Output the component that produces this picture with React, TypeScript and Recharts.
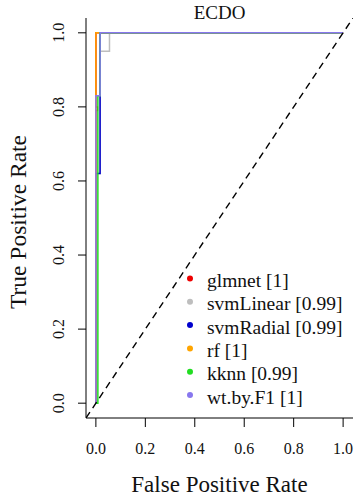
import React from 'react';
import { LineChart, Line, XAxis, YAxis, Legend, Label, Customized } from 'recharts';

const FONT = '"Liberation Serif", "Times New Roman", Times, serif';

const seriesNames = ['glmnet', 'svmLinear', 'svmRadial', 'rf', 'kknn', 'wt.by.F1'];
const seriesAuc = ['1', '0.99', '0.99', '1', '0.99', '1'];
const seriesColors = ['#EE0000', '#BEBEBE', '#0000CD', '#FFA500', '#22DD22', '#8877EE'];

const glmnetFpr = [0, 0, 0.006, 0.006, 0, 0, 1];
const glmnetTpr = [0, 0.79, 0.79, 0.8, 0.8, 1, 1];
const svmLinearFpr = [0, 0, 0.017, 0.017, 0.055, 0.055, 1];
const svmLinearTpr = [0, 0.62, 0.62, 0.95, 0.95, 1, 1];
const svmRadialFpr = [0, 0, 0.017, 0.017, 1];
const svmRadialTpr = [0, 0.62, 0.62, 1, 1];
const rfFpr = [0, 0, 1];
const rfTpr = [0, 1, 1];
const kknnFpr = [0, 0.008, 0.008, 0.017, 0.017, 1];
const kknnTpr = [0, 0, 0.83, 0.83, 1, 1];
const wtFpr = [0, 0, 0.017, 0.017, 1];
const wtTpr = [0, 0.83, 0.83, 1, 1];

const diagFpr = [-0.04, 1.04];
const diagTpr = [-0.04, 1.04];

const axisTicks = [0, 0.2, 0.4, 0.6, 0.8, 1];
const axisTickLabels = ['0.0', '0.2', '0.4', '0.6', '0.8', '1.0'];

const zip = (xs: number[], ys: number[]) => xs.map((x, i) => ({ fpr: x, tpr: ys[i] }));

const seriesData = [
  zip(glmnetFpr, glmnetTpr),
  zip(svmLinearFpr, svmLinearTpr),
  zip(svmRadialFpr, svmRadialTpr),
  zip(rfFpr, rfTpr),
  zip(kknnFpr, kknnTpr),
  zip(wtFpr, wtTpr),
];
const diagData = zip(diagFpr, diagTpr);

const tickLabel = (v: number) => {
  const i = axisTicks.indexOf(v);
  return i >= 0 ? axisTickLabels[i] : String(v);
};

const XTick = (props: any) => {
  const { x, y, payload } = props;
  return (
    <text x={x} y={y + 25} textAnchor="middle" fontFamily={FONT} fontSize={16} fill="#111">
      {tickLabel(payload.value)}
    </text>
  );
};

const YTick = (props: any) => {
  const { x, y, payload } = props;
  const bx = x - 12;
  return (
    <text x={bx} y={y} textAnchor="middle" transform={`rotate(-90, ${bx}, ${y})`} fontFamily={FONT} fontSize={16} fill="#111">
      {tickLabel(payload.value)}
    </text>
  );
};

const XTitle = (props: any) => {
  const vb = props.viewBox || { x: 86, y: 418, width: 267, height: 83 };
  const cx = vb.x + vb.width / 2;
  return (
    <text x={cx} y={vb.y + 74} textAnchor="middle" fontFamily={FONT} fontSize={23} fill="#111">
      False Positive Rate
    </text>
  );
};

const YTitle = (props: any) => {
  const vb = props.viewBox || { x: 0, y: 18, width: 86, height: 400 };
  const cy = vb.y + vb.height / 2 + 4;
  const bx = 26;
  return (
    <text x={bx} y={cy} textAnchor="middle" transform={`rotate(-90, ${bx}, ${cy})`} fontFamily={FONT} fontSize={23.5} fill="#111">
      True Positive Rate
    </text>
  );
};

const Title = () => (
  <text x={219.5} y={19} textAnchor="middle" fontFamily={FONT} fontSize={19} fill="#111">
    ECDO
  </text>
);

const renderLegend = () => (
  <svg width={175} height={160} style={{ display: 'block' }}>
    {seriesNames.map((n, i) => {
      const base = 23 + 23.3 * i;
      return (
        <g key={n}>
          <circle cx={10} cy={base - 8.5} r={3} fill={seriesColors[i]} />
          <text x={27} y={base} fontFamily={FONT} fontSize={19.5} fill="#111">
            {`${n} [${seriesAuc[i]}]`}
          </text>
        </g>
      );
    })}
  </svg>
);

export default function App() {
  return (
    <div style={{ position: 'absolute', left: 0, top: 0, width: 355, height: 501, background: '#fff' }}>
      <LineChart width={355} height={501} margin={{ top: 18, right: 2, bottom: 0, left: 0 }}>
        <XAxis
          type="number"
          dataKey="fpr"
          domain={[-0.04, 1.04]}
          ticks={axisTicks}
          allowDataOverflow
          interval={0}
          height={83}
          tickSize={9}
          tickMargin={2}
          axisLine={{ stroke: '#000', strokeWidth: 1 }}
          tickLine={{ stroke: '#000', strokeWidth: 1 }}
          tick={<XTick />}
        >
          <Label content={XTitle} />
        </XAxis>
        <YAxis
          type="number"
          dataKey="tpr"
          domain={[-0.04, 1.04]}
          ticks={axisTicks}
          allowDataOverflow
          interval={0}
          width={86}
          tickSize={8}
          tickMargin={2}
          axisLine={{ stroke: '#000', strokeWidth: 1 }}
          tickLine={{ stroke: '#000', strokeWidth: 1 }}
          tick={<YTick />}
        >
          <Label content={YTitle} />
        </YAxis>
        {seriesData.map((d, i) => (
          <Line
            key={seriesNames[i]}
            name={seriesNames[i]}
            data={d}
            dataKey="tpr"
            type="linear"
            stroke={seriesColors[i]}
            strokeWidth={1.5}
            dot={false}
            activeDot={false}
            isAnimationActive={false}
          />
        ))}
        <Line
          name="diag"
          data={diagData}
          dataKey="tpr"
          type="linear"
          stroke="#000"
          strokeWidth={1.4}
          strokeDasharray="7 5"
          dot={false}
          activeDot={false}
          legendType="none"
          isAnimationActive={false}
        />
        <Legend
          layout="vertical"
          align="center"
          verticalAlign="middle"
          content={renderLegend}
          wrapperStyle={{ left: 180, top: 264, width: 175, height: 160 }}
        />
        <Customized component={Title} />
      </LineChart>
    </div>
  );
}
